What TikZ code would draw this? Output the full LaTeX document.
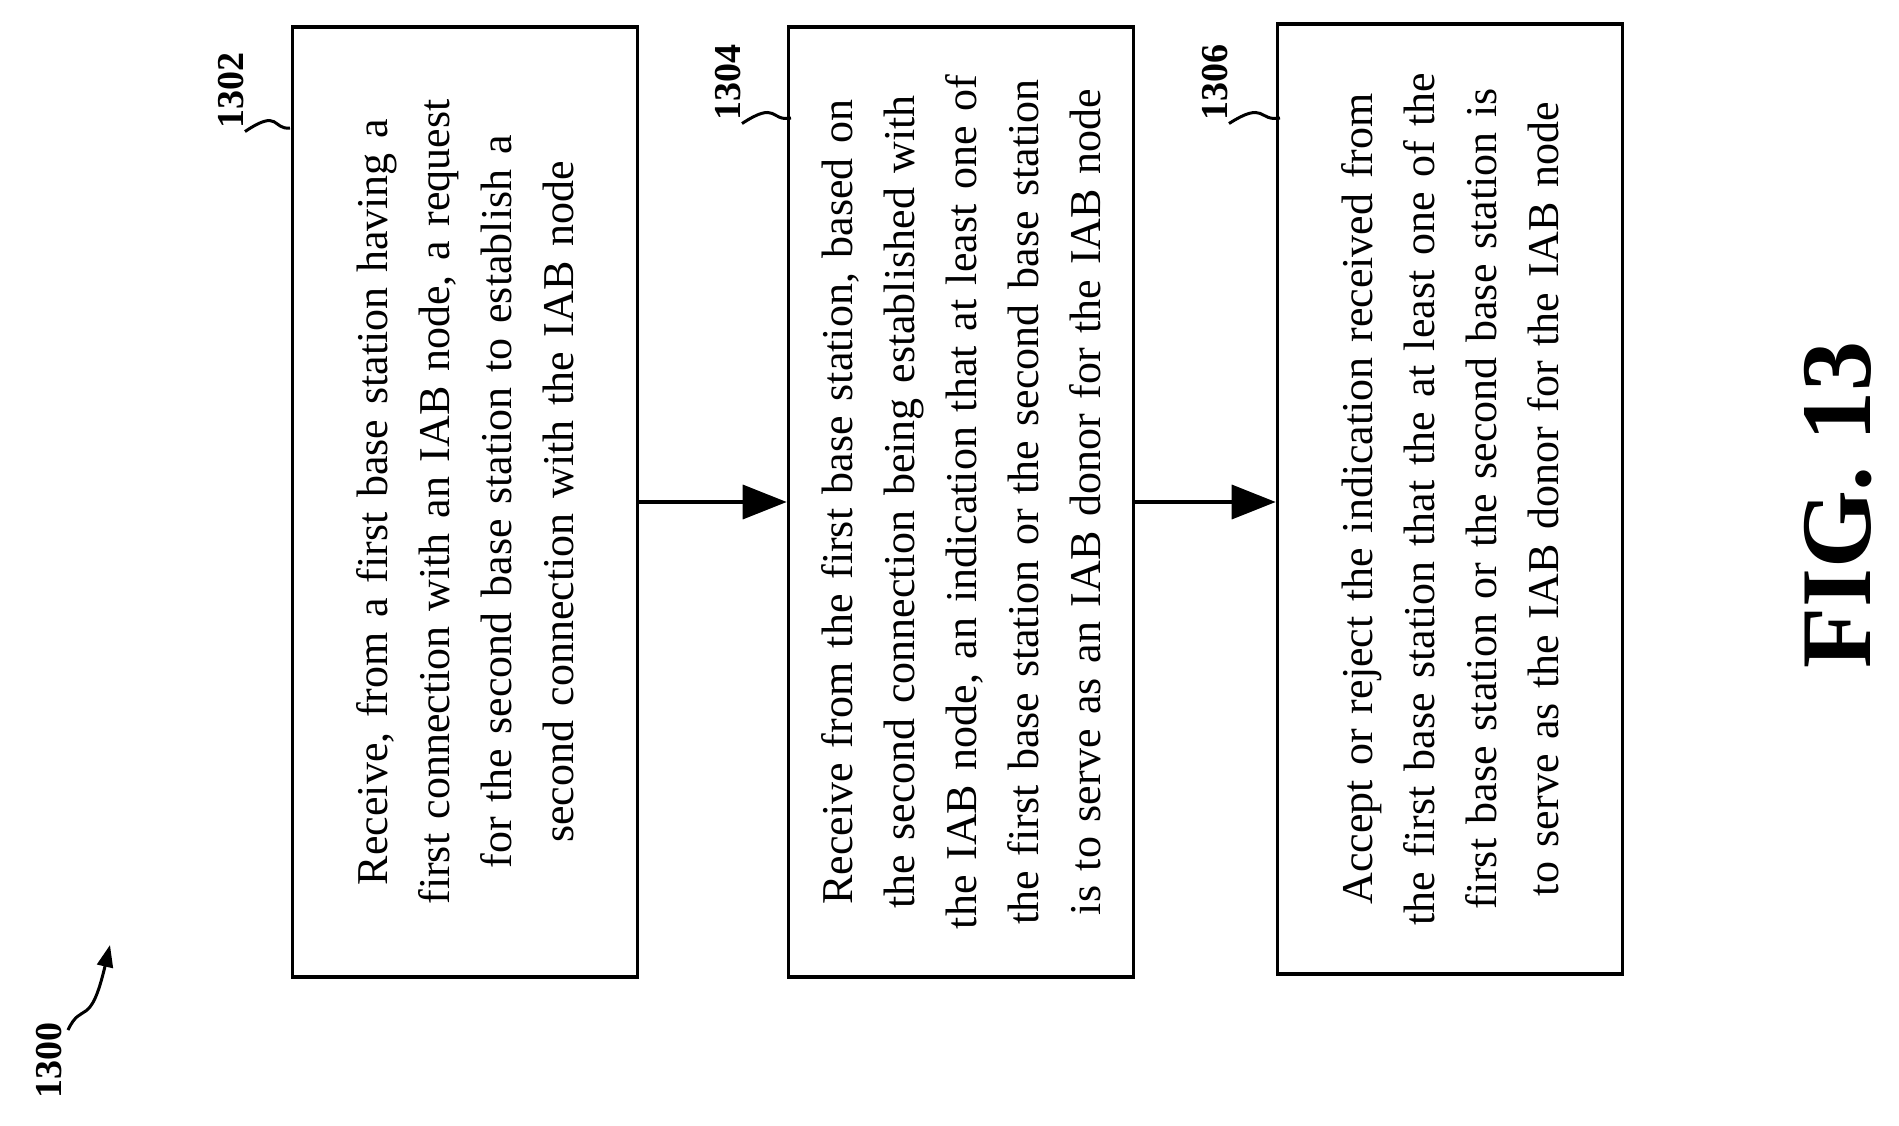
\documentclass[tikz,border=0pt]{standalone}
\usepackage{fontspec}
\setmainfont{Liberation Serif}
\usetikzlibrary{positioning,arrows.meta}
\begin{document}
\begin{tikzpicture}[x=1pt,y=-1pt,
  stepbox/.style={draw, line width=3.6pt, rotate=90, minimum width=950pt, minimum height=345pt,
    align=center, text width=920pt, font=\fontsize{44}{62}\selectfont},
  reflabel/.style={rotate=90, font=\bfseries\fontsize{38}{44}\selectfont},
  flow/.style={line width=3.6pt, -{Triangle[length=44pt,width=34pt]}}]
\useasboundingbox (0,0) rectangle (1899,1125);
\node[stepbox] (s1) at (465,502) {Receive, from a first base station having a\\first connection with an IAB node, a request\\for the second base station to establish a\\second connection with the IAB node};
\node[stepbox] (s2) at (961,502) {Receive from the first base station, based on\\the second connection being established with\\the IAB node, an indication that at least one of\\the first base station or the second base station\\is to serve as an IAB donor for the IAB node};
\node[stepbox] (s3) at (1450,499) {Accept or reject the indication received from\\the first base station that the at least one of the\\first base station or the second base station is\\to serve as the IAB donor for the IAB node};
\draw[flow] (s1.south) -- (s2.north);
\draw[flow] (s2.south) -- (s2.south -| s3.north);
% reference labels
\node[reflabel] (l1) at (231,90) {1302};
\node[reflabel] (l2) at (728,82) {1304};
\node[reflabel] (l3) at (1215,82) {1306};
\node[reflabel] (l0) at (49,1060) {1300};
\draw[line width=3pt] (l1.west) ++(14,0) .. controls (280,108) and (272,130) .. (290,128);
\draw[line width=3pt] (l2.west) ++(14,0) .. controls (778,100) and (770,122) .. (791,118);
\draw[line width=3pt] (l3.west) ++(14,0) .. controls (1266,100) and (1258,122) .. (1280,118);
\draw[line width=3pt, -{Triangle[length=22pt,width=16pt]}] (68,1030) .. controls (82,1000) and (90,1030) .. (110,945);
\node[rotate=90, font=\bfseries\fontsize{100}{110}\selectfont] (fig) at (1838,505) {FIG. 13};
\end{tikzpicture}
\end{document}
